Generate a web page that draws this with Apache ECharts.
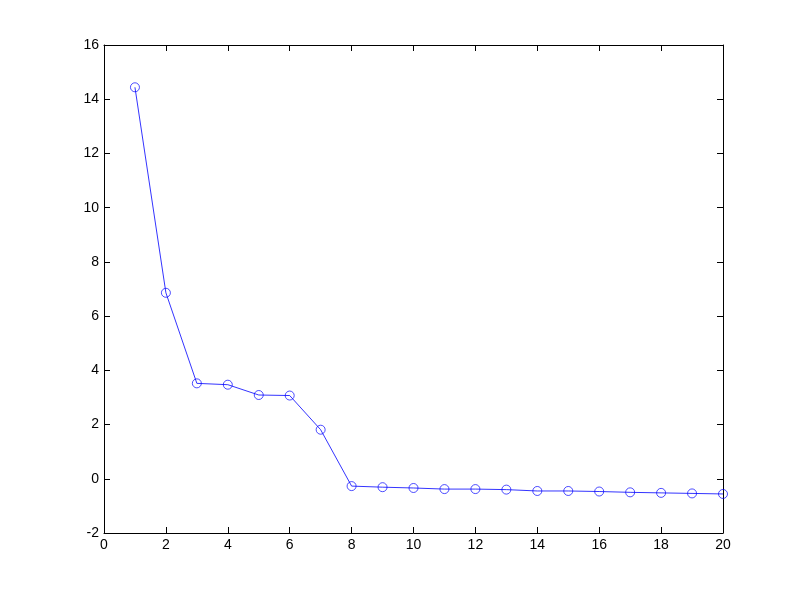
<!DOCTYPE html>
<html>
<head>
<meta charset="utf-8">
<script src="https://cdn.jsdelivr.net/npm/echarts@6/dist/echarts.min.js"></script>
<style>html,body{margin:0;padding:0;background:#fff;}#c{width:799px;height:599px;}</style>
</head>
<body>
<div id="c"></div>
<script>
const xValues = [1,2,3,4,5,6,7,8,9,10,11,12,13,14,15,16,17,18,19,20];
const yValues = [14.44,6.86,3.52,3.47,3.09,3.07,1.81,-0.27,-0.31,-0.34,-0.38,-0.38,-0.40,-0.45,-0.45,-0.47,-0.50,-0.52,-0.54,-0.56];
const xTicks = {min:0, max:20, interval:2};
const yTicks = {min:-2, max:16, interval:2};

const chart = echarts.init(document.getElementById('c'), null, {renderer:'canvas'});
const axisLine = {show:true, onZero:false, lineStyle:{color:'#000', width:1}};
const tickIn = {show:true, inside:true, length:6, lineStyle:{color:'#000', width:1}};
const lbl = {color:'#000', fontSize:14, fontFamily:'Liberation Sans, Arial, sans-serif'};
chart.setOption({
  backgroundColor:'#fff',
  animation:false,
  grid:{left:104, top:45, right:76, bottom:66},
  xAxis:[
    Object.assign({type:'value', position:'bottom', axisLine:axisLine, axisTick:tickIn, splitLine:{show:false},
     axisLabel:Object.assign({margin:5}, lbl)}, xTicks),
    Object.assign({type:'value', position:'top', axisLine:axisLine, axisTick:tickIn, splitLine:{show:false}, axisLabel:{show:false}}, xTicks)
  ],
  yAxis:[
    Object.assign({type:'value', position:'left', axisLine:axisLine, axisTick:tickIn, splitLine:{show:false},
     axisLabel:Object.assign({margin:5}, lbl)}, yTicks),
    Object.assign({type:'value', position:'right', axisLine:axisLine, axisTick:tickIn, splitLine:{show:false}, axisLabel:{show:false}}, yTicks)
  ],
  series:[{
    type:'line',
    xAxisIndex:0, yAxisIndex:0,
    data:xValues.map((x,i)=>[x,yValues[i]]),
    symbol:'circle',
    symbolSize:9,
    showSymbol:true,
    lineStyle:{color:'#0000ff', width:0.8},
    itemStyle:{color:'rgba(255,255,255,0)', borderColor:'#0000ff', borderWidth:0.7},
    clip:false
  }]
});
</script>
</body>
</html>
